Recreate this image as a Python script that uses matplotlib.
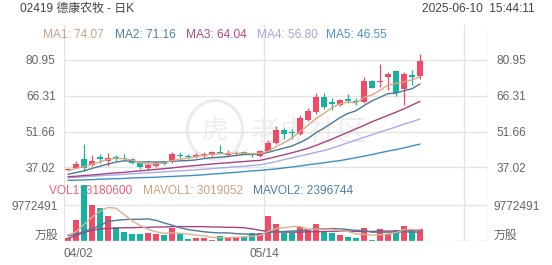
import matplotlib
matplotlib.use('Agg')
import matplotlib.pyplot as plt
from matplotlib.patches import Circle
import numpy as np

plt.rcParams['font.family'] = ['Liberation Sans', 'Noto Sans CJK SC', 'DejaVu Sans']

# ---------------- data ----------------
title = '02419 德康农牧 - 日K'
stamp = '2025-06-10  15:44:11'
x_labels = ['04/02', '05/14']
x_label_idx = [0, 25]
price_ticks = [37.02, 51.66, 66.31, 80.95]
vol_tick = 9772491

opens = [36.0, 36.9, 40.3, 38.2, 41.2, 39.6, 41.0, 40.6, 40.3, 38.9,
         36.7, 37.6, 39.3, 39.6, 42.0, 41.5, 41.2, 41.6, 42.0, 43.2,
         42.2, 42.4, 43.2, 42.7, 41.6, 43.7, 47.1, 52.2, 51.3, 50.8,
         56.3, 59.5, 65.8, 63.6, 62.6, 65.0, 64.0, 63.6, 72.3, 72.1,
         74.2, 76.3, 69.0, 75.0, 74.4]
closes = [36.3, 38.6, 36.9, 39.6, 40.3, 40.7, 40.8, 40.4, 38.9, 37.0,
          38.1, 38.9, 38.6, 42.3, 41.7, 41.3, 42.0, 42.5, 43.2, 42.9,
          42.8, 42.7, 42.7, 41.9, 43.7, 47.1, 52.2, 50.8, 51.1, 57.2,
          59.9, 65.8, 61.7, 63.0, 64.7, 64.0, 63.6, 72.5, 69.7, 72.5,
          75.1, 67.4, 75.3, 73.9, 80.7]
highs = [36.7, 39.6, 46.4, 41.9, 42.7, 43.0, 41.9, 42.3, 40.7, 39.3,
         39.1, 39.5, 39.8, 43.2, 43.2, 42.3, 42.8, 43.4, 43.9, 46.1,
         44.2, 43.8, 43.8, 43.0, 44.2, 48.1, 54.1, 53.2, 52.8, 58.6,
         61.5, 67.6, 67.6, 65.4, 65.2, 67.1, 65.4, 73.9, 72.7, 79.3,
         76.2, 77.0, 76.0, 76.9, 83.4]
lows = [35.6, 36.7, 35.5, 37.4, 38.9, 37.6, 39.5, 39.9, 38.5, 36.2,
        36.0, 37.2, 38.2, 39.0, 41.0, 40.6, 40.8, 41.2, 41.5, 42.4,
        41.8, 41.9, 42.3, 41.4, 41.3, 43.4, 46.6, 48.7, 48.7, 50.4,
        55.8, 59.0, 61.0, 60.6, 62.2, 63.2, 62.6, 63.2, 69.4, 70.1,
        68.5, 66.4, 62.6, 70.8, 73.1]

ma1 = [35.7, 36.6, 37.3, 38.3, 39.3, 40.3, 40.7, 40.6, 40.0, 38.9,
       38.3, 38.5, 38.8, 39.8, 40.3, 40.8, 41.4, 42.0, 42.4, 42.6,
       42.7, 42.8, 42.8, 42.6, 42.8, 43.6, 45.5, 47.1, 49.0, 51.7,
       54.2, 57.0, 59.1, 61.5, 63.0, 63.8, 63.4, 65.6, 66.7, 68.5,
       70.7, 71.4, 72.0, 72.8, 74.07]
ma2 = [34.2, 34.9, 35.6, 36.6, 37.5, 38.4, 39.2, 39.7, 39.6, 39.2,
       39.3, 39.2, 39.3, 39.5, 39.7, 39.8, 40.1, 40.6, 41.0, 41.2,
       41.5, 41.9, 42.3, 42.3, 42.6, 43.1, 44.1, 44.9, 45.8, 47.2,
       48.9, 51.2, 53.1, 55.2, 57.4, 59.1, 60.2, 62.3, 64.2, 65.7,
       67.2, 67.4, 68.4, 69.2, 71.16]
ma3 = [33.2, 33.4, 33.7, 33.9, 34.2, 34.5, 34.8, 35.0, 35.3, 35.6,
       35.9, 36.2, 36.5, 36.8, 37.2, 37.5, 37.8, 38.1, 38.4, 38.7,
       38.9, 39.2, 39.4, 39.7, 39.9, 40.6, 41.4, 42.2, 43.0, 43.9,
       44.8, 46.0, 47.3, 48.6, 50.0, 51.4, 52.8, 54.2, 55.7, 57.0,
       58.3, 59.6, 61.0, 62.5, 64.04]
ma4 = [32.8, 33.0, 33.2, 33.4, 33.6, 33.8, 34.0, 34.2, 34.4, 34.6,
       34.8, 35.0, 35.2, 35.4, 35.6, 35.8, 36.0, 36.3, 36.5, 36.8,
       37.0, 37.3, 37.5, 37.8, 38.1, 38.7, 39.4, 40.2, 40.9, 41.7,
       42.4, 43.2, 43.9, 44.9, 46.0, 47.1, 48.2, 49.3, 50.4, 51.5,
       52.5, 53.6, 54.7, 55.7, 56.80]
ma5 = [31.7, 31.8, 31.9, 32.0, 32.2, 32.3, 32.4, 32.5, 32.7, 32.8,
       32.9, 33.0, 33.2, 33.3, 33.5, 33.6, 33.8, 34.0, 34.3, 34.5,
       34.8, 35.0, 35.3, 35.6, 35.8, 36.1, 36.4, 36.8, 37.2, 37.6,
       38.1, 38.5, 38.9, 39.4, 39.8, 40.4, 41.0, 41.6, 42.3, 43.0,
       43.7, 44.3, 45.0, 45.8, 46.55]
ma_names = ['MA1', 'MA2', 'MA3', 'MA4', 'MA5']
ma_last = [74.07, 71.16, 64.04, 56.80, 46.55]

volumes = [0.7, 5.7, 15.2, 9.8, 8.9, 6.8, 3.7, 2.5, 1.9, 1.9,
           2.1, 1.8, 1.5, 3.4, 1.8, 0.6, 0.7, 0.7, 0.4, 1.4,
           1.0, 1.0, 1.0, 2.1, 2.3, 6.8, 4.5, 2.2, 2.2, 3.7,
           3.2, 4.5, 2.5, 2.3, 1.6, 1.0, 0.7, 3.4, 0.2, 3.2,
           1.9, 3.0, 4.1, 3.2, 3.1806]  # millions
mavol1 = [1.6, 2.5, 4.5, 6.5, 8.1, 9.1, 8.9, 7.2, 5.5, 4.2,
          3.2, 2.5, 2.1, 2.2, 2.1, 1.9, 1.6, 1.4, 1.0, 0.9,
          0.9, 1.0, 1.1, 1.3, 1.5, 2.6, 3.4, 3.6, 3.9, 3.9,
          3.2, 3.2, 3.2, 3.2, 2.8, 2.6, 1.9, 1.8, 1.6, 1.7,
          1.9, 2.3, 3.1, 3.1, 3.019]
mavol2 = [1.4, 1.8, 2.6, 3.3, 4.2, 5.3, 5.6, 5.8, 5.9, 5.9,
          6.0, 5.6, 4.9, 4.3, 3.6, 3.1, 2.8, 2.5, 2.3, 2.2,
          2.2, 2.0, 1.9, 1.8, 1.8, 2.3, 2.5, 2.6, 2.7, 2.8,
          3.0, 3.3, 3.3, 3.4, 3.3, 3.1, 2.9, 2.8, 2.4, 2.4,
          2.4, 2.4, 2.5, 2.4, 2.397]
mavol3 = [0.7, 1.5, 2.3, 2.9, 3.3, 3.4, 3.5, 3.6, 3.6, 3.7,
          3.7, 3.8, 3.8, 3.9, 3.9, 3.9, 3.9, 3.9, 3.8, 3.8,
          3.7, 3.7, 3.6, 3.3, 2.9, 2.6, 2.5, 2.4, 2.4, 2.4,
          2.5, 2.5, 2.6, 2.6, 2.7, 2.7, 2.6, 2.6, 2.6, 2.7,
          2.7, 2.7, 2.8, 2.8, 2.8]
vol_legend = [('VOL1', 3180600), ('MAVOL1', 3019052), ('MAVOL2', 2396744)]

# ---------------- style ----------------
W, H = 552, 265
RED = '#f04a66'
TEAL = '#15b2a0'
GRID = '#e4e4e4'
TXT = '#666666'
ma_colors = ['#d9aa86', '#4b7898', '#a8437f', '#a9abea', '#3f8fc2']
ma_text_colors = ['#cda283', '#4f7fa2', '#b04a8a', '#a3a7e6', '#4a95c6']
vol_text_colors = ['#ee5f74', '#cda283', '#4f7fa2']
vol_line_colors = ['#dcb08f', '#4f7a98', '#a8437f']
FS = 8.6

fig = plt.figure(figsize=(W / 100, H / 100), dpi=100)


def frac(x0, y0, x1, y1):
    return [x0 / W, 1 - y1 / H, (x1 - x0) / W, (y1 - y0) / H]


n = len(closes)
xs = np.arange(n)
X_LO, X_HI = -0.5, 52.5

# price axes: pixel rows 25..182; 80.95 at y=60, 37.02 at y=167.4
ppx = (80.95 - 37.02) / (167.4 - 60)
ax = fig.add_axes(frac(64, 25, 488, 182))
ax.set_xlim(X_LO, X_HI)
ax.set_ylim(80.95 - (182 - 60) * ppx, 80.95 + (60 - 25) * ppx)
for s in ax.spines.values():
    s.set_visible(False)
ax.set_xticks([])
ax.set_yticks(price_ticks)
ax.set_yticklabels([f'{t:.2f}' for t in price_ticks])
ax.tick_params(axis='y', length=0, pad=6, labelsize=FS, labelcolor=TXT,
               labelleft=True, labelright=True)
for t in price_ticks:
    ax.axhline(t, color=GRID, lw=1.0, zorder=0)

# watermark
circ = Circle((215 / W, 1 - 130 / H), 0.0, transform=fig.transFigure)
wm = fig.add_axes(frac(185, 98, 245, 162))
wm.set_xlim(-1, 1); wm.set_ylim(-1, 1); wm.axis('off')
wm.add_patch(Circle((0, 0), 0.92, fill=False, ec='#ebebeb', lw=2.2))
wm.text(0, 0, '虎', ha='center', va='center', fontsize=19, color='#eeeeee')
wm.set_zorder(0.5)
fig.text(250 / W, 1 - 133 / H, '老虎社区', fontsize=21, color='#efefef',
         ha='left', va='center', zorder=0.6)
ax.set_zorder(1)
ax.patch.set_alpha(0)

# candles
for i in xs:
    o, c, h, l = opens[i], closes[i], highs[i], lows[i]
    col = RED if c >= o else TEAL
    ax.vlines(i, l, h, color=col, lw=0.9, zorder=3)
    bot = min(o, c)
    ht = max(abs(c - o), 0.35)
    ax.bar(i, ht, bottom=bot, width=0.72, color=col, lw=0, zorder=4)

for vals, col in zip([ma5, ma4, ma3, ma2, ma1], ma_colors[::-1]):
    ax.plot(xs, vals, color=col, lw=1.0, zorder=5, solid_capstyle='round')

# vertical grid lines across both panels
for xv in [-0.5, 24.5, 49.5, 52.5]:
    ax.axvline(xv, color=GRID, lw=1.0, zorder=0)

# volume axes: pixel rows 182..241; 0 at 241, vol_tick at 205
vpx = vol_tick / 1e6 / (241 - 205)
vax = fig.add_axes(frac(64, 182, 488, 241))
vax.set_xlim(X_LO, X_HI)
vax.set_ylim(0, (241 - 182) * vpx)
for s in vax.spines.values():
    s.set_visible(False)
vax.set_yticks([])
vax.axhline(vol_tick / 1e6, color=GRID, lw=1.0, zorder=0)
vax.axhline(0, color='#dcdcdc', lw=1.0, zorder=6)
for xv in [-0.5, 24.5, 49.5, 52.5]:
    vax.axvline(xv, color=GRID, lw=1.0, zorder=0)
vcols = [RED if closes[i] >= opens[i] else TEAL for i in xs]
vax.bar(xs, volumes, width=0.72, color=vcols, lw=0, zorder=3)
for vals, col in zip([mavol3, mavol2, mavol1], vol_line_colors[::-1]):
    vax.plot(xs, vals, color=col, lw=1.0, zorder=4)
vax.set_xticks([x_label_idx[0] - 0.5, x_label_idx[1] - 0.5])
vax.set_xticklabels(x_labels)
vax.tick_params(axis='x', length=0, pad=5, labelsize=FS, labelcolor=TXT)
vax.get_xticklabels()[0].set_ha('left')
vax.patch.set_alpha(0)
vax.set_zorder(1)

# volume legend (bars drawn over it)
vx = [49, 143, 253]
for (name, v), xp, col in zip(vol_legend, vx, vol_text_colors):
    vax.text(xp / W, 1 - 191 / H, f'{name}: {v}', transform=fig.transFigure,
             fontsize=FS, color=col, ha='left', va='center', zorder=1)

# volume axis labels
for xp, ha in [(58, 'right'), (494, 'left')]:
    fig.text(xp / W, 1 - 207 / H, str(vol_tick), fontsize=FS, color=TXT, ha=ha, va='center')
    fig.text(xp / W, 1 - 236 / H, '万股', fontsize=FS, color=TXT, ha=ha, va='center')

# header
fig.text(20 / W, 1 - 9 / H, title, fontsize=FS, color='#444444', ha='left', va='center')
fig.text(535 / W, 1 - 9 / H, stamp, fontsize=FS, color='#444444', ha='right', va='center')
mx = [43, 115, 186, 257, 326]
for name, v, xp, col in zip(ma_names, ma_last, mx, ma_text_colors):
    fig.text(xp / W, 1 - 35 / H, f'{name}: {v:.2f}', fontsize=FS, color=col,
             ha='left', va='center', zorder=10)

fig.savefig('out.png', dpi=100, facecolor='white')
